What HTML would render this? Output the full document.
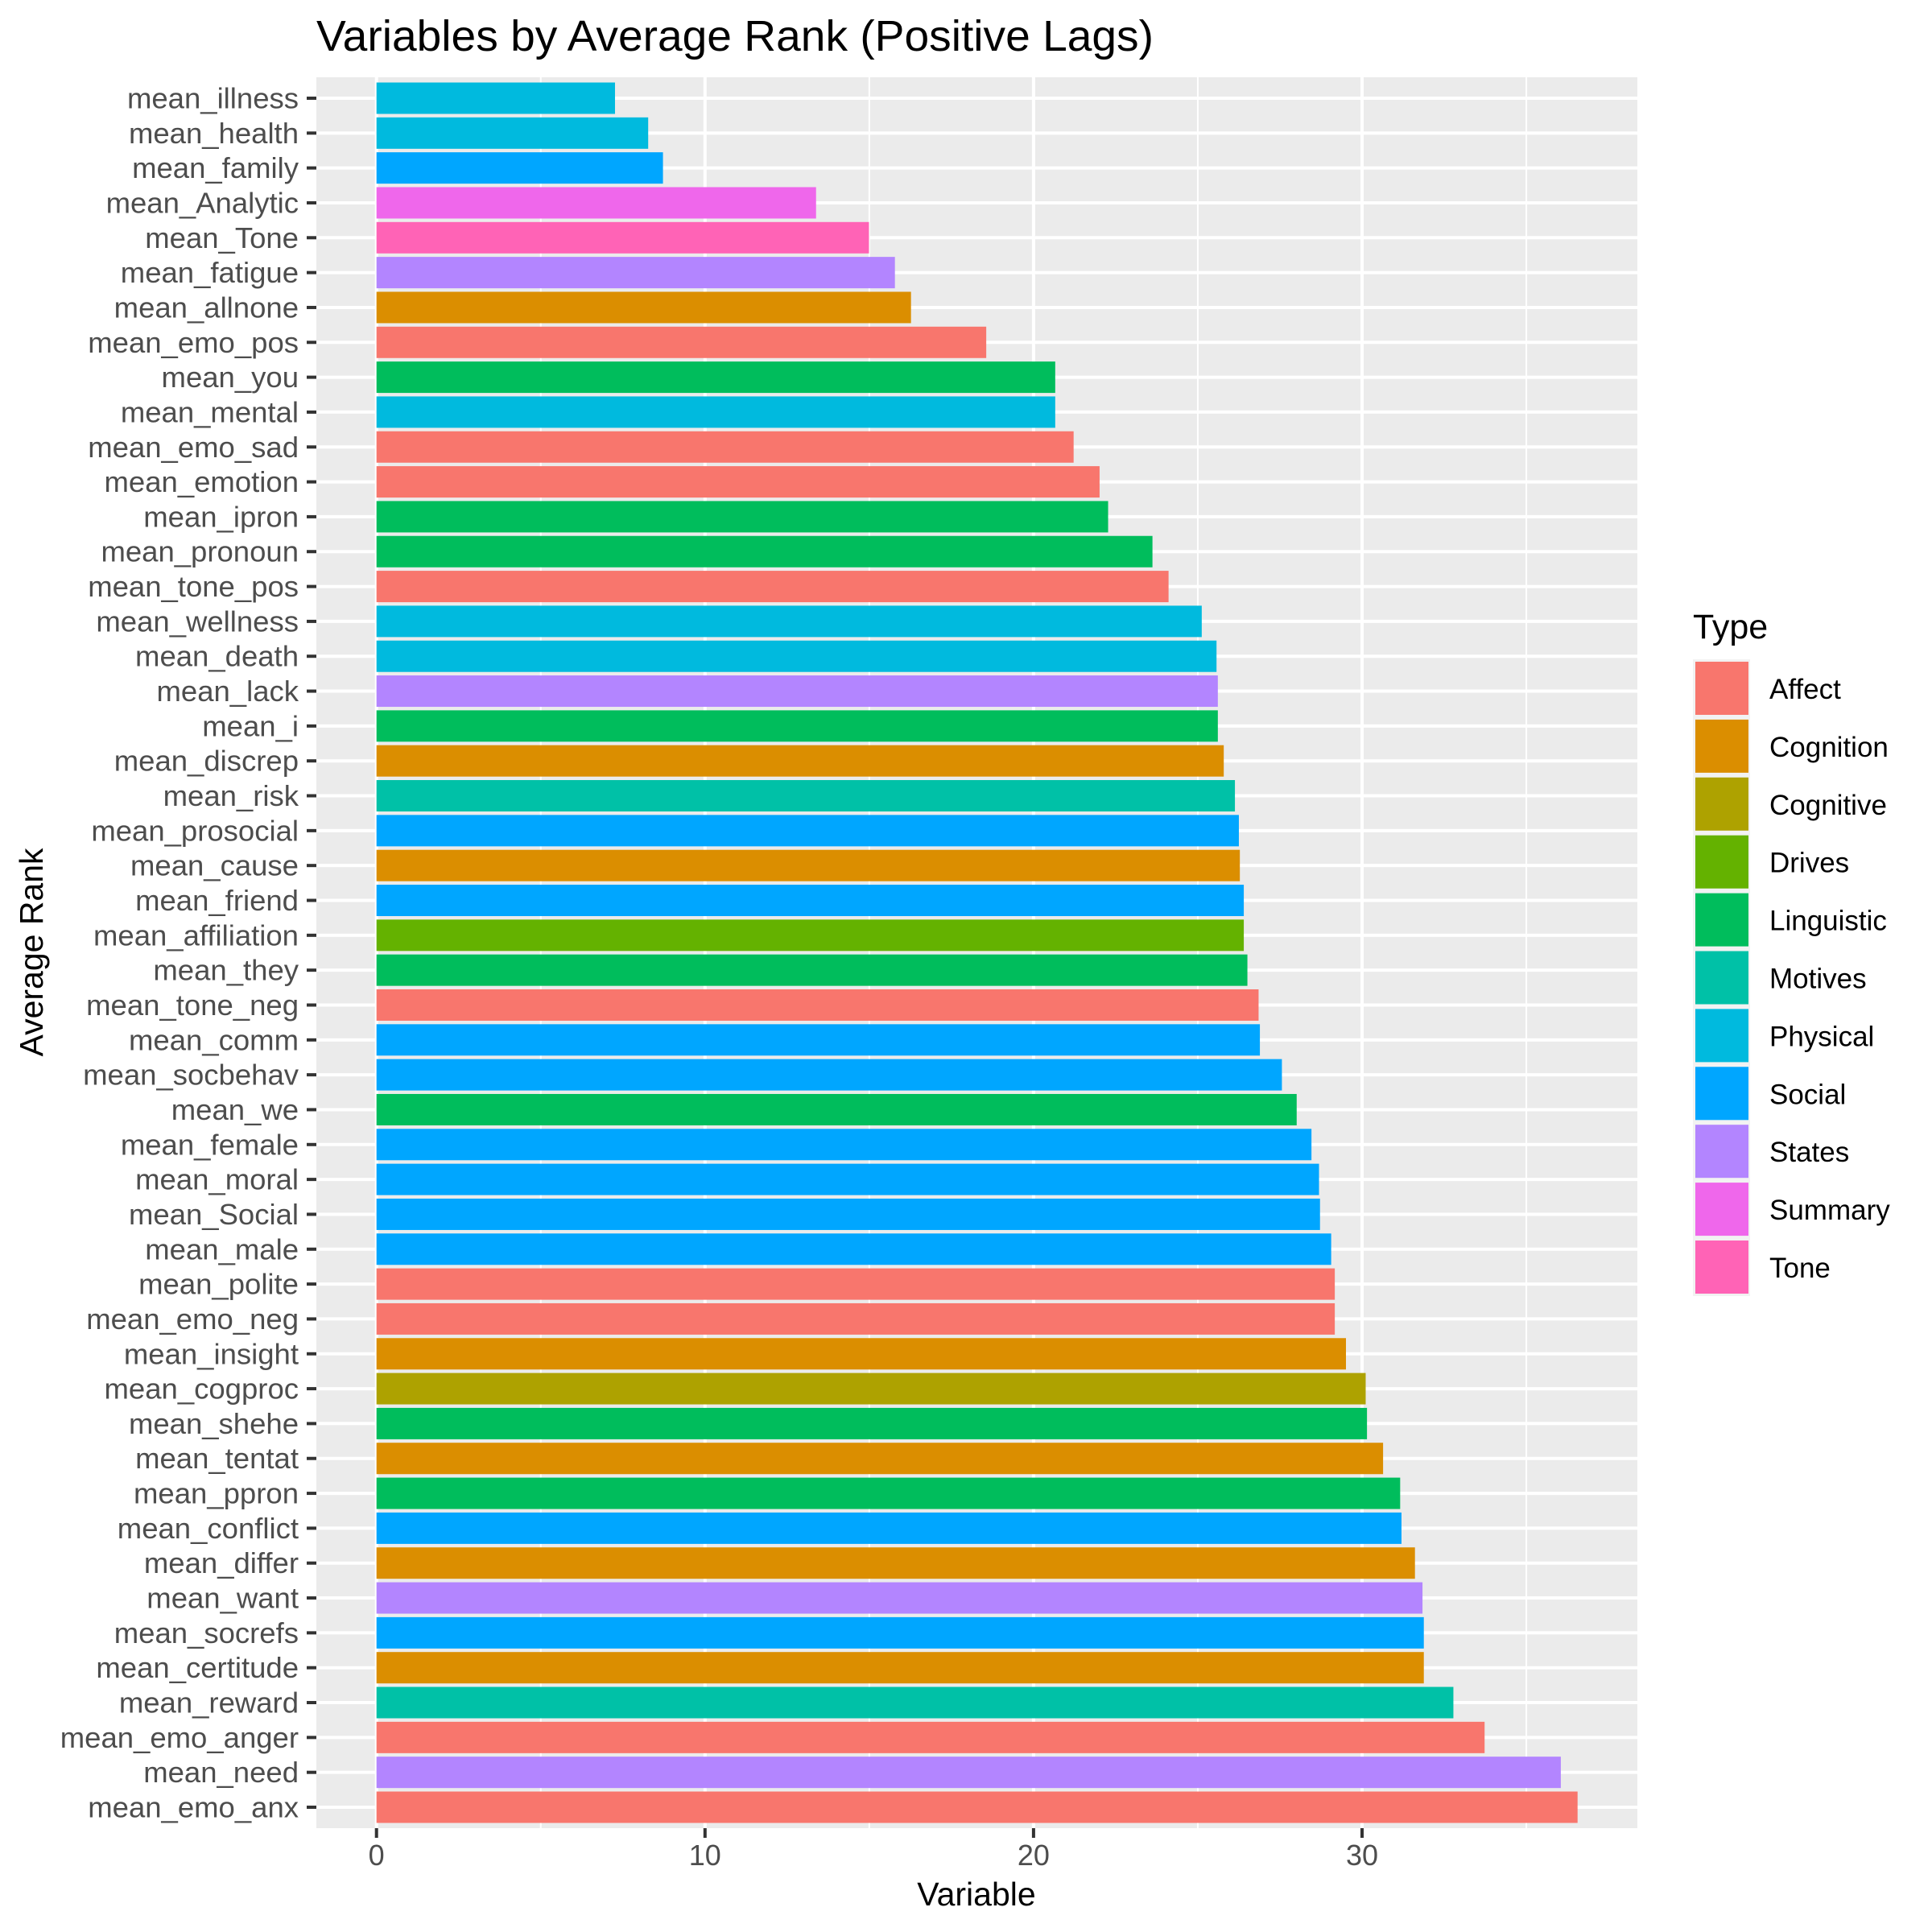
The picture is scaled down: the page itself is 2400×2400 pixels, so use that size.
<!DOCTYPE html>
<html><head><meta charset="utf-8"><style>
html,body{margin:0;padding:0;background:#fff;}
svg{display:block;font-family:"Liberation Sans",Arial,sans-serif;}
</style></head><body>
<svg id="chart" width="2400" height="2400" viewBox="0 0 2400 2400" xmlns="http://www.w3.org/2000/svg">
<rect width="2400" height="2400" fill="#fff"/>
<text x="393" y="63" font-size="54" fill="#000" textLength="1040" lengthAdjust="spacingAndGlyphs">Variables by Average Rank (Positive Lags)</text>
<rect x="393" y="96" width="1641" height="2175" fill="#EBEBEB"/>
<g id="grid"></g>
<g id="bars"></g>
<g id="yaxis"></g>
<g id="xaxis"></g>
<text x="1213" y="2367" font-size="41" text-anchor="middle" fill="#000">Variable</text>
<text transform="translate(53,1183) rotate(-90)" font-size="41" text-anchor="middle" fill="#000">Average Rank</text>
<g id="legend">
<text x="2103" y="793" font-size="43" fill="#000">Type</text>
</g>
</svg>
<script>
const categories = ["mean_illness","mean_health","mean_family","mean_Analytic","mean_Tone","mean_fatigue","mean_allnone","mean_emo_pos","mean_you","mean_mental","mean_emo_sad","mean_emotion","mean_ipron","mean_pronoun","mean_tone_pos","mean_wellness","mean_death","mean_lack","mean_i","mean_discrep","mean_risk","mean_prosocial","mean_cause","mean_friend","mean_affiliation","mean_they","mean_tone_neg","mean_comm","mean_socbehav","mean_we","mean_female","mean_moral","mean_Social","mean_male","mean_polite","mean_emo_neg","mean_insight","mean_cogproc","mean_shehe","mean_tentat","mean_ppron","mean_conflict","mean_differ","mean_want","mean_socrefs","mean_certitude","mean_reward","mean_emo_anger","mean_need","mean_emo_anx"];
const values = [7.26,8.27,8.72,13.38,14.99,15.78,16.27,18.56,20.66,20.66,21.22,22.01,22.27,23.62,24.11,25.12,25.57,25.61,25.61,25.79,26.13,26.25,26.28,26.4,26.4,26.51,26.85,26.89,27.56,28.01,28.46,28.69,28.72,29.06,29.17,29.17,29.51,30.11,30.15,30.64,31.16,31.2,31.61,31.84,31.88,31.88,32.78,33.73,36.05,36.56];
const types = ["Physical","Physical","Social","Summary","Tone","States","Cognition","Affect","Linguistic","Physical","Affect","Affect","Linguistic","Linguistic","Affect","Physical","Physical","States","Linguistic","Cognition","Motives","Social","Cognition","Social","Drives","Linguistic","Affect","Social","Social","Linguistic","Social","Social","Social","Social","Affect","Affect","Cognition","Cognitive","Linguistic","Cognition","Linguistic","Social","Cognition","States","Social","Cognition","Motives","Affect","States","Affect"];
const typeNames = ["Affect","Cognition","Cognitive","Drives","Linguistic","Motives","Physical","Social","States","Summary","Tone"];
const typeColors = ["#F8766D","#DB8E00","#AEA200","#64B200","#00BD5C","#00C1A7","#00BADE","#00A6FF","#B385FF","#EF67EB","#FF63B6"];
const xTicks = [0,10,20,30];
const xMinor = [5,15,25,35];

const NS="http://www.w3.org/2000/svg";
const PL=393,PR=2034,PT=96,PB=2271;
const X0=467.7, PXU=40.81;
function xs(v){return X0+v*PXU;}
const n=categories.length;
const step=(PB-PT)/(n-1+1.2);
function yc(i){return PT+step*(0.6+i);}
function mk(tag,attrs,parent){const e=document.createElementNS(NS,tag);for(const k in attrs)e.setAttribute(k,attrs[k]);parent.appendChild(e);return e;}
const grid=document.getElementById('grid'),bars=document.getElementById('bars'),ya=document.getElementById('yaxis'),xa=document.getElementById('xaxis'),leg=document.getElementById('legend');
xMinor.forEach(v=>{const l=mk('line',{x1:xs(v),x2:xs(v),y1:PT,y2:PB,stroke:'#fff','stroke-width':2},grid);

});
xTicks.forEach(v=>{const l=mk('line',{x1:xs(v),x2:xs(v),y1:PT,y2:PB,stroke:'#fff','stroke-width':4},grid);


const t=mk('line',{x1:xs(v),x2:xs(v),y1:PB,y2:PB+12,stroke:'#333','stroke-width':4},xa);


const tx=mk('text',{x:xs(v),y:2317,'font-size':36,'text-anchor':'middle',fill:'#4D4D4D'},xa);tx.textContent=String(v);

});
categories.forEach((c,i)=>{const y=yc(i);
const g=mk('line',{x1:PL,x2:PR,y1:y,y2:y,stroke:'#fff','stroke-width':4},grid);


const col=typeColors[typeNames.indexOf(types[i])];
const h=step*0.9;
const b=mk('rect',{x:xs(0),y:y-h/2,width:xs(values[i])-xs(0),height:h,fill:col},bars);


const t=mk('line',{x1:381,x2:393,y1:y,y2:y,stroke:'#333','stroke-width':4},ya);


const tx=mk('text',{x:371,y:y+12.5,'font-size':36.5,'text-anchor':'end',fill:'#4D4D4D'},ya);tx.textContent=c;

});
typeNames.forEach((nm,i)=>{const top=822+i*71.9;
const bg=mk('rect',{x:2103,y:top-3,width:71,height:72,fill:'#F2F2F2'},leg);


const k=mk('rect',{x:2106,y:top,width:66,height:66,fill:typeColors[i]},leg);


const tx=mk('text',{x:2198,y:top+46,'font-size':35,fill:'#000'},leg);tx.textContent=nm;

});
</script>
</body></html>
